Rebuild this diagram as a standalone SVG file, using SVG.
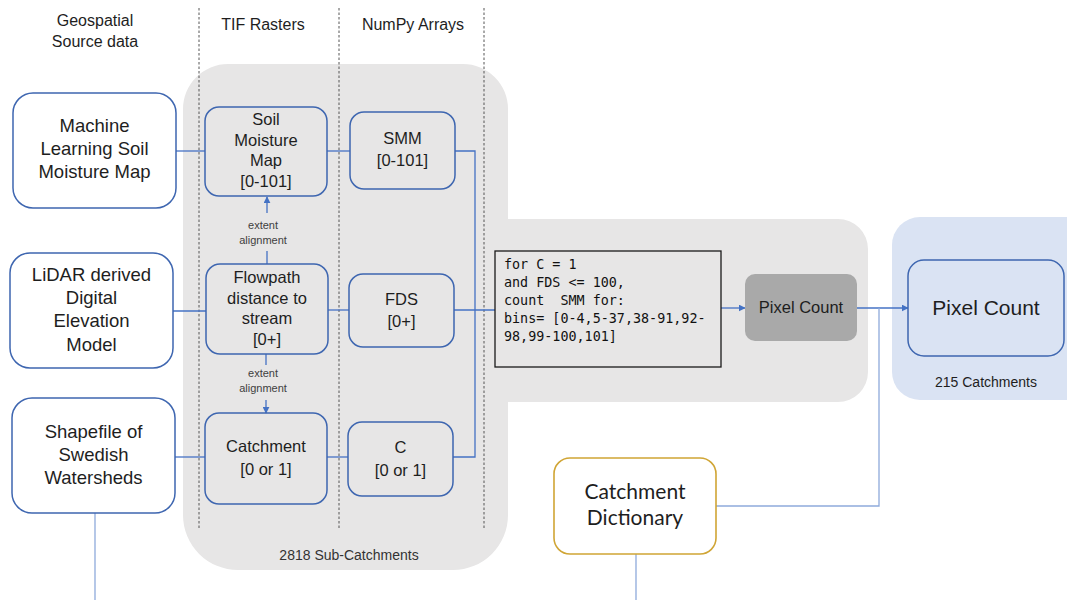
<svg xmlns="http://www.w3.org/2000/svg" width="1067" height="600" viewBox="0 0 1067 600">
  <defs>
    <marker id="arr" viewBox="0 0 10 10" refX="9" refY="5" markerWidth="7" markerHeight="7" orient="auto" markerUnits="userSpaceOnUse">
      <path d="M0,0 L10,5 L0,10 Z" fill="#4472c4"/>
    </marker>
    <style>
      .txt { font-family: "Liberation Sans", Arial, sans-serif; fill: #1e1e1e; text-anchor: middle; }
      .hdr { font-size: 16px; }
      .src { fill: #ffffff; stroke: #3e66b0; stroke-width: 1.5; }
      .node { fill: none; stroke: #3e66b0; stroke-width: 1.5; }
      .big { font-size: 18.5px; }
      .mid { font-size: 16.5px; }
      .small { font-size: 11px; fill: #404040; }
      .cap { font-size: 14px; fill: #333333; }
      .conn { fill: none; stroke: #4472c4; stroke-width: 1.3; }
      .light { fill: none; stroke: #8eaadb; stroke-width: 1.3; }
      .dash { stroke: #555555; stroke-width: 1; stroke-dasharray: 2.5 2; }
      .code { font-family: "DejaVu Sans Mono", "Liberation Mono", monospace; font-size: 13.4px; fill: #111111; }
    </style>
  </defs>

  <!-- background panels -->
  <g id="panels">
    <path d="M 228,64 H 463 A 45 45 0 0 1 508 109 V 219 H 838 A 30 30 0 0 1 868 249 V 372 A 30 30 0 0 1 838 402 H 508 V 515 A 55 55 0 0 1 453 570 H 238 A 55 55 0 0 1 183 515 V 109 A 45 45 0 0 1 228 64 Z" fill="#e7e6e6"/>
    <rect x="892" y="217" width="210" height="183" rx="28" fill="#dae3f3"/>
    <text class="txt cap" x="349" y="560">2818 Sub-Catchments</text>
    <text class="txt" x="986" y="387" font-size="14">215 Catchments</text>
  </g>

  <!-- column separators and headers -->
  <g id="columns">
    <line class="dash" x1="199" y1="8" x2="199" y2="530"/>
    <line class="dash" x1="339" y1="8" x2="339" y2="530"/>
    <line class="dash" x1="484" y1="8" x2="484" y2="530"/>
    <text class="txt hdr" x="95" y="26">Geospatial</text>
    <text class="txt hdr" x="95" y="47">Source data</text>
    <text class="txt hdr" x="263" y="30">TIF Rasters</text>
    <text class="txt hdr" x="413" y="30">NumPy Arrays</text>
  </g>

  <!-- connectors -->
  <g id="connectors">
    <line class="conn" x1="176" y1="151" x2="205" y2="151"/>
    <line class="conn" x1="327" y1="151" x2="350" y2="151"/>
    <line class="conn" x1="173" y1="311" x2="206" y2="311"/>
    <line class="conn" x1="328" y1="310" x2="349" y2="310"/>
    <line class="conn" x1="175" y1="457" x2="205" y2="457"/>
    <line class="conn" x1="327" y1="457" x2="348" y2="457"/>
    <polyline class="conn" points="455,151 475,151 475,457 453,457"/>
    <line class="conn" x1="454" y1="310" x2="495" y2="310"/>
    <line class="conn" x1="721" y1="308" x2="745" y2="308" marker-end="url(#arr)"/>
    <line class="conn" x1="857" y1="308" x2="908" y2="308" marker-end="url(#arr)"/>
    <polyline class="light" points="879,308 879,506 716,506"/>
    <line class="light" x1="95" y1="513" x2="95" y2="600"/>
    <line class="light" x1="636" y1="554" x2="636" y2="600"/>
    <!-- extent alignment links -->
    <line class="conn" x1="267" y1="264" x2="267" y2="251"/>
    <line class="conn" x1="267" y1="213" x2="267" y2="197" marker-end="url(#arr)"/>
    <text class="txt small" x="263" y="229">extent</text>
    <text class="txt small" x="263" y="244">alignment</text>
    <line class="conn" x1="266" y1="354" x2="266" y2="365"/>
    <line class="conn" x1="266" y1="400" x2="266" y2="413" marker-end="url(#arr)"/>
    <text class="txt small" x="263" y="377">extent</text>
    <text class="txt small" x="263" y="392">alignment</text>
  </g>

  <!-- source data -->
  <g id="ml-soil-moisture">
    <rect class="src" x="13" y="93" width="163" height="115" rx="20"/>
    <text class="txt big" x="94.5" y="132">Machine</text>
    <text class="txt big" x="94.5" y="155">Learning Soil</text>
    <text class="txt big" x="94.5" y="178">Moisture Map</text>
  </g>
  <g id="lidar-dem">
    <rect class="src" x="10" y="253" width="163" height="115" rx="20"/>
    <text class="txt big" x="91.5" y="281">LiDAR derived</text>
    <text class="txt big" x="91.5" y="304">Digital</text>
    <text class="txt big" x="91.5" y="327">Elevation</text>
    <text class="txt big" x="91.5" y="351">Model</text>
  </g>
  <g id="shapefile">
    <rect class="src" x="12" y="398" width="163" height="115" rx="20"/>
    <text class="txt big" x="93.5" y="438">Shapefile of</text>
    <text class="txt big" x="93.5" y="461">Swedish</text>
    <text class="txt big" x="93.5" y="484">Watersheds</text>
  </g>

  <!-- TIF rasters -->
  <g id="tif-soil-moisture">
    <rect class="node" x="205" y="107" width="122" height="89" rx="14"/>
    <text class="txt mid" x="266" y="125">Soil</text>
    <text class="txt mid" x="266" y="146">Moisture</text>
    <text class="txt mid" x="266" y="166">Map</text>
    <text class="txt mid" x="266" y="187">[0-101]</text>
  </g>
  <g id="tif-flowpath">
    <rect class="node" x="206" y="264" width="122" height="90" rx="14"/>
    <text class="txt mid" x="267" y="283">Flowpath</text>
    <text class="txt mid" x="267" y="304">distance to</text>
    <text class="txt mid" x="267" y="324">stream</text>
    <text class="txt mid" x="267" y="345">[0+]</text>
  </g>
  <g id="tif-catchment">
    <rect class="node" x="205" y="413" width="122" height="91" rx="14"/>
    <text class="txt mid" x="266" y="452">Catchment</text>
    <text class="txt mid" x="266" y="475">[0 or 1]</text>
  </g>

  <!-- NumPy arrays -->
  <g id="np-smm">
    <rect class="node" x="350" y="112" width="105" height="77" rx="14"/>
    <text class="txt mid" x="402.5" y="144">SMM</text>
    <text class="txt mid" x="402.5" y="166">[0-101]</text>
  </g>
  <g id="np-fds">
    <rect class="node" x="349" y="274" width="105" height="73" rx="14"/>
    <text class="txt mid" x="401.5" y="305">FDS</text>
    <text class="txt mid" x="401.5" y="327">[0+]</text>
  </g>
  <g id="np-c">
    <rect class="node" x="348" y="422" width="105" height="74" rx="14"/>
    <text class="txt mid" x="400.5" y="453">C</text>
    <text class="txt mid" x="400.5" y="476">[0 or 1]</text>
  </g>

  <!-- counting rule -->
  <g id="count-rule">
    <rect x="495" y="251" width="226" height="116" fill="none" stroke="#1a1a1a" stroke-width="1.3"/>
    <text class="code" x="504" y="269">for C = 1</text>
    <text class="code" x="504" y="287">and FDS &lt;= 100,</text>
    <text class="code" x="504" y="305" xml:space="preserve">count  SMM for:</text>
    <text class="code" x="504" y="323">bins= [0-4,5-37,38-91,92-</text>
    <text class="code" x="504" y="341">98,99-100,101]</text>
  </g>

  <g id="pixel-count-sub">
    <rect x="745" y="274" width="112" height="67" rx="10" fill="#a9a9a9"/>
    <text class="txt" x="801" y="313" font-size="16.5">Pixel Count</text>
  </g>

  <g id="pixel-count-catchment">
    <rect x="908" y="260" width="156" height="96" rx="16" fill="#dae3f3" stroke="#3e66b0" stroke-width="1.5"/>
    <text class="txt" x="986" y="315" font-size="21">Pixel Count</text>
  </g>

  <g id="catchment-dictionary">
    <rect x="554" y="458" width="162" height="96" rx="16" fill="#ffffff" stroke="#d0a535" stroke-width="1.6"/>
    <text class="txt" x="635" y="499" font-size="21" style="font-family: Lato, 'Liberation Sans', sans-serif">Catchment</text>
    <text class="txt" x="635" y="525" font-size="21" style="font-family: Lato, 'Liberation Sans', sans-serif">Dictionary</text>
  </g>
</svg>
